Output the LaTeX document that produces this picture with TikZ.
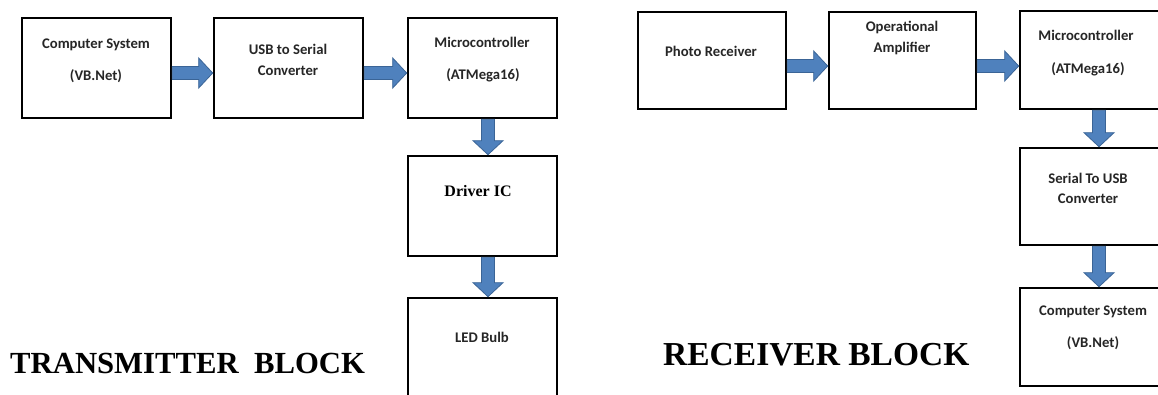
\documentclass[tikz,border=0pt]{standalone}
\usepackage{fontspec}
\setmainfont{Liberation Serif}
\newfontfamily\boxfont{Carlito}
\usetikzlibrary{calc}
\definecolor{arrfill}{HTML}{4F81BD}
\definecolor{arrline}{HTML}{3A6496}
\tikzset{
  blk/.style={draw=black, line width=2.6pt, rectangle, inner sep=0pt, fill=white},
  btxt/.style={font=\boxfont\bfseries\fontsize{14.7}{16}\selectfont, text=black!85, anchor=base, inner sep=0pt},
  ttxt/.style={font=\bfseries\fontsize{16}{18}\selectfont, anchor=base, inner sep=0pt},
  title/.style={anchor=base west, inner sep=0pt},
  barrow/.style={fill=arrfill, draw=arrline, line width=0.8pt, line join=miter}
}
\newcommand{\HArr}[3]{%
  \draw[barrow] let \p1=(#1.east), \p2=(#2.west), \n1={-#3} in
   (\x1,\n1pt+6.5pt) -- (\x2-14pt,\n1pt+6.5pt) -- (\x2-14pt,\n1pt+15pt) -- (\x2,\n1pt)
   -- (\x2-14pt,\n1pt-15pt) -- (\x2-14pt,\n1pt-6.5pt) -- (\x1,\n1pt-6.5pt) -- cycle;}
\newcommand{\VArr}[3]{%
  \draw[barrow] let \p1=(#1.south), \p2=(#2.north), \n1={#3} in
   (\n1pt-6.5pt,\y1) -- (\n1pt-6.5pt,\y2+14pt) -- (\n1pt-15pt,\y2+14pt) -- (\n1pt,\y2)
   -- (\n1pt+15pt,\y2+14pt) -- (\n1pt+6.5pt,\y2+14pt) -- (\n1pt+6.5pt,\y1) -- cycle;}
\begin{document}
\begin{tikzpicture}[x=1pt,y=1pt]
\useasboundingbox (0,0) rectangle (1158,-394);
\fill[white] (0,0) rectangle (1158,-394);
% transmitter boxes
\node[blk, minimum width=149pt, minimum height=100pt] (t1) at (96.5,-68) {};
\node[blk, minimum width=149pt, minimum height=100pt] (t2) at (288.5,-68) {};
\node[blk, minimum width=149pt, minimum height=100pt] (t3) at (482.5,-68) {};
\node[blk, minimum width=149pt, minimum height=100pt] (t4) at (482.5,-206) {};
\node[blk, minimum width=149pt, minimum height=100pt] (t5) at (482.5,-348) {};
% receiver boxes
\node[blk, minimum width=148pt, minimum height=97pt] (r1) at (712,-60.5) {};
\node[blk, minimum width=147pt, minimum height=97pt] (r2) at (902.5,-60.5) {};
\node[blk, minimum width=150pt, minimum height=98pt] (r3) at (1095,-60) {};
\node[blk, minimum width=150pt, minimum height=97pt] (r4) at (1095,-196.5) {};
\node[blk, minimum width=150pt, minimum height=98pt] (r5) at (1095,-337) {};
% arrows
\HArr{t1}{t2}{73}
\HArr{t2}{t3}{73}
\VArr{t3}{t4}{488}
\VArr{t4}{t5}{488}
\HArr{r1}{r2}{66}
\HArr{r2}{r3}{66}
\VArr{r3}{r4}{1099}
\VArr{r4}{r5}{1099}
% texts
\node[btxt] (t1a) at (96,-48) {Computer System};
\node[btxt] (t1b) at (96,-80) {(VB.Net)};
\node[btxt] (t2a) at (288,-54) {USB to Serial};
\node[btxt] (t2b) at (288,-75) {Converter};
\node[btxt] (t3a) at (482,-47) {Microcontroller};
\node[btxt] (t3b) at (483,-79) {(ATMega16)};
\node[ttxt] (t4a) at (478,-196) {Driver IC};
\node[btxt] (t5a) at (482,-342) {LED Bulb};
\node[btxt] (r1a) at (711,-56) {Photo Receiver};
\node[btxt] (r2a) at (902,-31) {Operational};
\node[btxt] (r2b) at (902,-52) {Amplifier};
\node[btxt] (r3a) at (1086,-40) {Microcontroller};
\node[btxt] (r3b) at (1088,-73) {(ATMega16)};
\node[btxt] (r4a) at (1088,-183) {Serial To USB};
\node[btxt] (r4b) at (1088,-203) {Converter};
\node[btxt] (r5a) at (1093,-315) {Computer System};
\node[btxt] (r5b) at (1093,-347) {(VB.Net)};
% titles
\node[title, font=\bfseries\fontsize{30.7}{34}\selectfont] (tt) at (10,-373) {TRANSMITTER\hspace{0.5em}BLOCK};
\node[title, font=\bfseries\fontsize{33.5}{36}\selectfont] (rt) at (663,-365) {RECEIVER BLOCK};
\end{tikzpicture}
\end{document}
